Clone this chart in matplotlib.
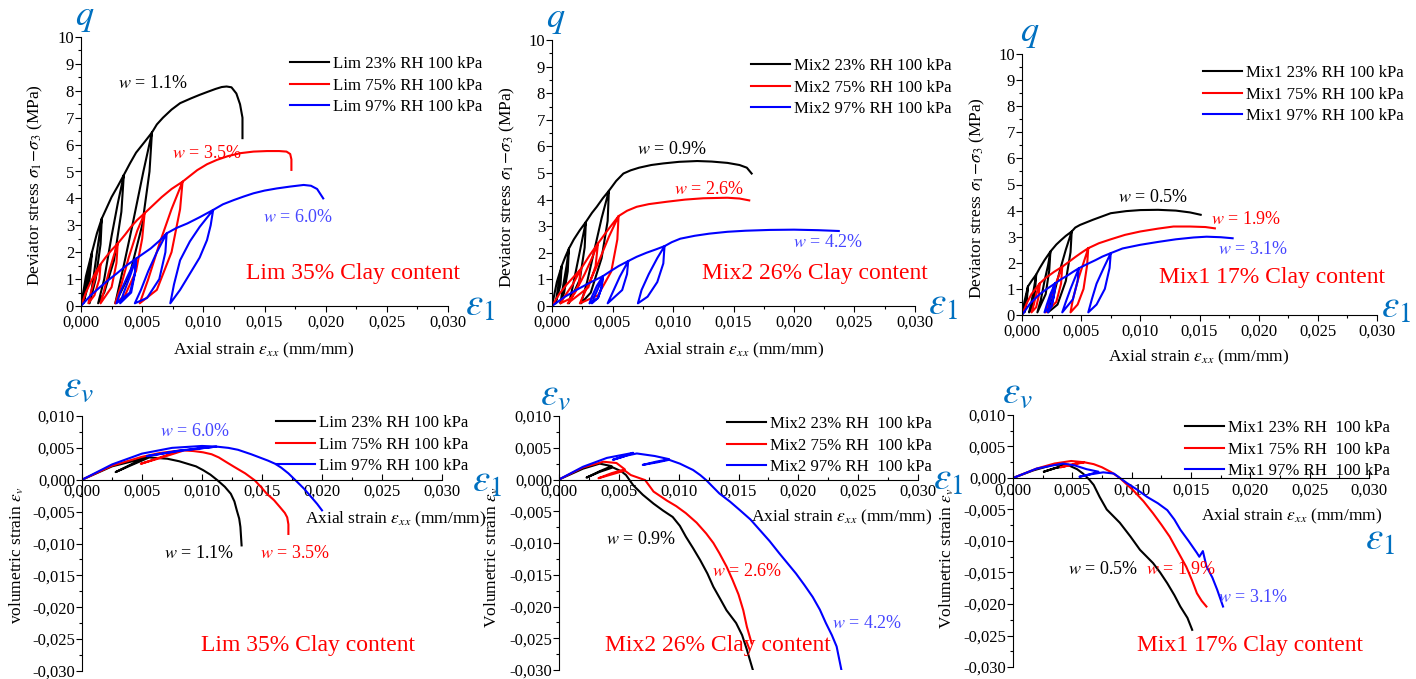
import matplotlib
matplotlib.use('Agg')
import matplotlib.pyplot as plt
from matplotlib.ticker import FuncFormatter, MultipleLocator

plt.rcParams['font.family'] = ['Liberation Serif', 'DejaVu Serif']
plt.rcParams['mathtext.fontset'] = 'stix'

# ---------------- data: deviator stress q (MPa) vs axial strain, (strain, q) ----------------
# Lim, 35% clay
lim23_q = [(0, 0), (0.0004, 1.1), (0.0009, 2.0), (0.0007, 1.0), (0.0002, 0.1), (0.0005, 0.9), (0.0009, 2.0),
           (0.0013, 2.7), (0.0017, 3.25), (0.0016, 2.3), (0.0012, 1.0), (0.0007, 0.1), (0.0010, 1.0),
           (0.0014, 2.3), (0.0017, 3.25), (0.0021, 3.65), (0.0025, 4.05), (0.0030, 4.45), (0.0035, 4.87),
           (0.0033, 3.5), (0.0027, 1.7), (0.0019, 0.5), (0.0014, 0.1), (0.0019, 1.0), (0.0025, 2.6),
           (0.0030, 3.8), (0.0035, 4.87), (0.0040, 5.3), (0.0045, 5.7), (0.0052, 6.1), (0.0058, 6.45),
           (0.0056, 5.0), (0.0050, 3.0), (0.0040, 1.2), (0.0028, 0.1), (0.0034, 1.3), (0.0042, 3.0),
           (0.0051, 5.0), (0.0058, 6.45), (0.0062, 6.75), (0.0067, 7.0), (0.0074, 7.3), (0.0081, 7.54),
           (0.0090, 7.72), (0.0097, 7.85), (0.0104, 7.97), (0.0110, 8.07), (0.0115, 8.14), (0.0119, 8.16),
           (0.0123, 8.13), (0.0127, 7.9), (0.0130, 7.5), (0.0132, 7.0), (0.0132, 6.24)]
lim75_q = [(0, 0), (0.0004, 0.5), (0.0008, 0.9), (0.0012, 1.25), (0.0016, 1.55), (0.0015, 1.0), (0.0011, 0.4),
           (0.0006, 0.1), (0.0008, 0.5), (0.0012, 1.1), (0.0016, 1.55), (0.0020, 1.8), (0.0025, 2.08),
           (0.0030, 2.32), (0.0029, 1.6), (0.0025, 0.7), (0.0016, 0.1), (0.0019, 0.6), (0.0023, 1.3),
           (0.0027, 1.9), (0.0030, 2.32), (0.0036, 2.65), (0.0041, 2.95), (0.0046, 3.2), (0.0052, 3.45),
           (0.0050, 2.5), (0.0045, 1.3), (0.0036, 0.4), (0.0028, 0.1), (0.0033, 0.8), (0.0039, 1.8),
           (0.0046, 2.8), (0.0052, 3.45), (0.0059, 3.75), (0.0066, 4.05), (0.0074, 4.35), (0.0083, 4.62),
           (0.0081, 3.6), (0.0074, 2.0), (0.0062, 0.6), (0.0048, 0.1), (0.0055, 1.0), (0.0064, 2.3),
           (0.0074, 3.6), (0.0083, 4.62), (0.0088, 4.8), (0.0095, 5.05), (0.0103, 5.27), (0.0111, 5.43),
           (0.0120, 5.57), (0.0130, 5.68), (0.0141, 5.74), (0.0152, 5.76), (0.0162, 5.76), (0.0168, 5.74),
           (0.0171, 5.65), (0.0172, 5.45), (0.0172, 5.06)]
lim97_q = [(0, 0), (0.0008, 0.4), (0.0016, 0.72), (0.0022, 0.95), (0.0029, 1.2), (0.0037, 1.5), (0.0045, 1.76),
           (0.0044, 1.2), (0.0040, 0.5), (0.0029, 0.1), (0.0032, 0.5), (0.0038, 1.1), (0.0045, 1.76),
           (0.0044, 1.2), (0.0041, 0.5), (0.0032, 0.1), (0.0035, 0.5), (0.0040, 1.1), (0.0045, 1.76),
           (0.0051, 1.95), (0.0057, 2.14), (0.0064, 2.42), (0.0070, 2.70), (0.0069, 2.0), (0.0064, 1.0),
           (0.0054, 0.3), (0.0044, 0.1), (0.0049, 0.6), (0.0055, 1.3), (0.0062, 2.0), (0.0070, 2.70),
           (0.0078, 2.9), (0.0087, 3.07), (0.0097, 3.3), (0.0108, 3.57), (0.0106, 3.0), (0.0103, 2.45),
           (0.0097, 1.8), (0.0089, 1.2), (0.0081, 0.6), (0.0073, 0.1), (0.0076, 0.8), (0.0081, 1.7),
           (0.0089, 2.4), (0.0097, 2.94), (0.0108, 3.57), (0.0116, 3.78), (0.0125, 3.94), (0.0133, 4.07),
           (0.0141, 4.19), (0.0150, 4.29), (0.0160, 4.37), (0.0171, 4.44), (0.0182, 4.50), (0.0188, 4.47),
           (0.0193, 4.35), (0.0198, 4.0)]

# Mix2, 26% clay
mix2_23_q = [(0, 0), (0.0004, 0.9), (0.0008, 1.5), (0.0007, 0.8), (0.0003, 0.1), (0.0005, 0.7), (0.0008, 1.5),
             (0.0011, 1.85), (0.0014, 2.16), (0.0013, 1.3), (0.0010, 0.5), (0.0007, 0.1), (0.0009, 0.7),
             (0.0012, 1.5), (0.0014, 2.16), (0.0018, 2.5), (0.0023, 2.85), (0.0028, 3.16), (0.0027, 2.2),
             (0.0023, 1.0), (0.0014, 0.1), (0.0017, 0.7), (0.0021, 1.6), (0.0025, 2.5), (0.0028, 3.16),
             (0.0033, 3.5), (0.0037, 3.73), (0.0042, 4.05), (0.0047, 4.33), (0.0046, 3.2), (0.0041, 1.8),
             (0.0032, 0.5), (0.0024, 0.1), (0.0029, 0.9), (0.0035, 2.1), (0.0041, 3.3), (0.0047, 4.33),
             (0.0053, 4.7), (0.0059, 4.98), (0.0065, 5.1), (0.0072, 5.2), (0.0082, 5.3), (0.0092, 5.36),
             (0.0105, 5.42), (0.0120, 5.45), (0.0132, 5.43), (0.0145, 5.38), (0.0155, 5.30), (0.0161, 5.2),
             (0.0165, 4.98)]
mix2_75_q = [(0, 0), (0.0006, 0.45), (0.0012, 0.8), (0.0018, 1.1), (0.0024, 1.4), (0.0022, 0.8), (0.0016, 0.3),
             (0.0007, 0.1), (0.0011, 0.4), (0.0017, 0.8), (0.0024, 1.4), (0.0031, 1.9), (0.0038, 2.35),
             (0.0036, 1.5), (0.0030, 0.7), (0.0013, 0.1), (0.0019, 0.5), (0.0027, 1.2), (0.0033, 1.8),
             (0.0038, 2.35), (0.0046, 2.85), (0.0055, 3.38), (0.0054, 2.5), (0.0049, 1.3), (0.0038, 0.4),
             (0.0023, 0.1), (0.0030, 0.8), (0.0038, 1.6), (0.0047, 2.6), (0.0055, 3.38), (0.0062, 3.58),
             (0.0070, 3.73), (0.0080, 3.83), (0.0095, 3.92), (0.0110, 4.0), (0.0125, 4.05), (0.0145, 4.07),
             (0.0155, 4.04), (0.0163, 3.97)]
mix2_97_q = [(0, 0), (0.0010, 0.33), (0.0020, 0.6), (0.0031, 0.87), (0.0042, 1.12), (0.0041, 0.7), (0.0038, 0.3),
             (0.0031, 0.1), (0.0033, 0.35), (0.0037, 0.75), (0.0042, 1.12), (0.0041, 0.7), (0.0038, 0.3),
             (0.0033, 0.1), (0.0035, 0.35), (0.0039, 0.75), (0.0042, 1.12), (0.0048, 1.3), (0.0055, 1.5),
             (0.0063, 1.69), (0.0062, 1.2), (0.0058, 0.6), (0.0046, 0.1), (0.0050, 0.5), (0.0056, 1.1),
             (0.0063, 1.69), (0.0070, 1.85), (0.0078, 2.0), (0.0086, 2.13), (0.0093, 2.25), (0.0092, 1.6),
             (0.0087, 0.9), (0.0079, 0.35), (0.0071, 0.1), (0.0074, 0.6), (0.0080, 1.2), (0.0087, 1.8),
             (0.0093, 2.25), (0.0099, 2.4), (0.0106, 2.53), (0.0118, 2.64), (0.0130, 2.72), (0.0145, 2.79),
             (0.0160, 2.83), (0.0180, 2.86), (0.0200, 2.87), (0.0220, 2.85), (0.0237, 2.82)]

# Mix1, 17% clay
mix1_23_q = [(0, 0), (0.0002, 0.5), (0.0005, 1.09), (0.0004, 0.5), (0.0002, 0.1), (0.0003, 0.45), (0.0005, 1.09),
             (0.0008, 1.3), (0.0012, 1.55), (0.0011, 0.9), (0.0009, 0.35), (0.0006, 0.1), (0.0008, 0.5),
             (0.0010, 1.0), (0.0012, 1.55), (0.0015, 1.8), (0.0019, 2.1), (0.0024, 2.43), (0.0023, 1.7),
             (0.0020, 0.8), (0.0013, 0.1), (0.0016, 0.6), (0.0019, 1.3), (0.0022, 1.9), (0.0024, 2.43),
             (0.0029, 2.7), (0.0033, 2.87), (0.0037, 3.03), (0.0042, 3.2), (0.0041, 2.4), (0.0037, 1.3),
             (0.0030, 0.4), (0.0022, 0.1), (0.0027, 0.8), (0.0032, 1.7), (0.0037, 2.5), (0.0042, 3.2),
             (0.0045, 3.35), (0.0049, 3.45), (0.0060, 3.65), (0.0075, 3.9), (0.0088, 3.98), (0.0100, 4.02),
             (0.0115, 4.03), (0.0130, 4.0), (0.0142, 3.93), (0.0151, 3.84)]
mix1_75_q = [(0, 0), (0.0004, 0.45), (0.0008, 0.8), (0.0015, 1.21), (0.0014, 0.7), (0.0012, 0.3), (0.0008, 0.1),
             (0.0010, 0.4), (0.0012, 0.8), (0.0015, 1.21), (0.0020, 1.42), (0.0027, 1.65), (0.0034, 1.85),
             (0.0033, 1.2), (0.0029, 0.5), (0.0020, 0.1), (0.0023, 0.5), (0.0027, 1.0), (0.0031, 1.5),
             (0.0034, 1.85), (0.0040, 2.05), (0.0045, 2.22), (0.0050, 2.38), (0.0056, 2.56), (0.0055, 1.9),
             (0.0052, 1.0), (0.0047, 0.4), (0.0041, 0.1), (0.0043, 0.6), (0.0047, 1.3), (0.0052, 2.0),
             (0.0056, 2.56), (0.0065, 2.75), (0.0075, 2.9), (0.0087, 3.07), (0.0100, 3.2), (0.0115, 3.31),
             (0.0128, 3.39), (0.0142, 3.39), (0.0155, 3.37), (0.0163, 3.32)]
mix1_97_q = [(0, 0), (0.0007, 0.45), (0.0015, 0.8), (0.0021, 1.0), (0.0028, 1.21), (0.0027, 0.75), (0.0025, 0.35),
             (0.0019, 0.1), (0.0021, 0.4), (0.0024, 0.8), (0.0028, 1.21), (0.0027, 0.75), (0.0025, 0.35),
             (0.0022, 0.1), (0.0023, 0.4), (0.0025, 0.8), (0.0028, 1.21), (0.0033, 1.37), (0.0038, 1.5),
             (0.0043, 1.65), (0.0048, 1.79), (0.0047, 1.3), (0.0043, 0.6), (0.0034, 0.1), (0.0037, 0.5),
             (0.0041, 1.0), (0.0045, 1.45), (0.0048, 1.79), (0.0055, 1.95), (0.0062, 2.1), (0.0068, 2.24),
             (0.0075, 2.37), (0.0074, 1.8), (0.0070, 1.0), (0.0063, 0.4), (0.0056, 0.1), (0.0059, 0.6),
             (0.0063, 1.2), (0.0069, 1.8), (0.0075, 2.37), (0.0085, 2.55), (0.0100, 2.69), (0.0115, 2.8),
             (0.0130, 2.9), (0.0145, 2.97), (0.0156, 3.0), (0.0168, 2.98), (0.0178, 2.94)]

# ---------------- data: volumetric strain vs axial strain, (strain, vol. strain) ----------------
lim23_v = [(0, 0), (0.0025, 0.0021), (0.0042, 0.0029), (0.0054, 0.0036), (0.0042, 0.0025), (0.0028, 0.0012),
           (0.0040, 0.0022), (0.0056, 0.0035), (0.0071, 0.0033), (0.0081, 0.0029), (0.0088, 0.0025),
           (0.0095, 0.0021), (0.0101, 0.0015), (0.0107, 0.0008), (0.0113, -0.0001), (0.0119, -0.0011),
           (0.0124, -0.0022), (0.0127, -0.0034), (0.0129, -0.0048), (0.0131, -0.0061), (0.0132, -0.0074),
           (0.0133, -0.0103)]
lim75_v = [(0, 0), (0.0025, 0.0022), (0.0050, 0.0036), (0.0065, 0.0042), (0.0082, 0.0046), (0.0065, 0.0035),
           (0.0049, 0.0025), (0.0065, 0.0034), (0.0085, 0.0046), (0.0093, 0.0045), (0.0101, 0.0043),
           (0.0108, 0.0040), (0.0114, 0.0035), (0.0120, 0.0028), (0.0127, 0.0020), (0.0136, 0.0010),
           (0.0144, -0.0001), (0.0149, -0.0011), (0.0154, -0.0022), (0.0160, -0.0032), (0.0165, -0.0043),
           (0.0169, -0.0052), (0.0171, -0.0059), (0.0172, -0.0070), (0.0172, -0.0085)]
lim97_v = [(0, 0), (0.0025, 0.0024), (0.0050, 0.0041), (0.0075, 0.0050), (0.0100, 0.0053), (0.0112, 0.0052),
           (0.0080, 0.0045), (0.0054, 0.0037), (0.0082, 0.0046), (0.0112, 0.0052), (0.0122, 0.0050),
           (0.0130, 0.0047), (0.0141, 0.0040), (0.0148, 0.0035), (0.0155, 0.0030), (0.0161, 0.0025),
           (0.0166, 0.0019), (0.0172, 0.0010), (0.0178, -0.0001), (0.0185, -0.0014), (0.0191, -0.0027),
           (0.0196, -0.0038), (0.0200, -0.0048)]

mix2_23_v = [(0, 0), (0.0020, 0.0017), (0.0034, 0.0025), (0.0044, 0.0021), (0.0034, 0.0013), (0.0023, 0.0003),
             (0.0034, 0.0012), (0.0045, 0.0019), (0.0052, 0.0013), (0.0056, 0.0007), (0.0062, -0.0009),
             (0.0070, -0.0024), (0.0079, -0.0038), (0.0087, -0.0049), (0.0095, -0.0059), (0.0101, -0.0073),
             (0.0106, -0.0090), (0.0112, -0.0108), (0.0118, -0.0127), (0.0124, -0.0148), (0.0129, -0.0169),
             (0.0135, -0.0189), (0.0140, -0.0206), (0.0148, -0.0226), (0.0153, -0.0245), (0.0157, -0.0268),
             (0.0162, -0.0300)]
mix2_75_v = [(0, 0), (0.0020, 0.0019), (0.0037, 0.0028), (0.0048, 0.0026), (0.0055, 0.0016), (0.0044, 0.0010),
             (0.0033, 0.0002), (0.0044, 0.0008), (0.0055, 0.0014), (0.0060, 0.0007), (0.0066, 0.0003),
             (0.0072, -0.0001), (0.0079, -0.0019), (0.0090, -0.0033), (0.0098, -0.0042), (0.0106, -0.0053),
             (0.0115, -0.0068), (0.0123, -0.0085), (0.0129, -0.0100), (0.0134, -0.0116), (0.0140, -0.0137),
             (0.0145, -0.0158), (0.0150, -0.0181), (0.0154, -0.0206), (0.0157, -0.0232), (0.0161, -0.0258)]
mix2_97_v = [(0, 0), (0.0020, 0.0020), (0.0040, 0.0034), (0.0062, 0.0042), (0.0054, 0.0036), (0.0045, 0.0031),
             (0.0055, 0.0037), (0.0065, 0.0041), (0.0080, 0.0037), (0.0092, 0.0032), (0.0081, 0.0028),
             (0.0070, 0.0023), (0.0082, 0.0027), (0.0092, 0.0031), (0.0101, 0.0025), (0.0112, 0.0015),
             (0.0118, 0.0007), (0.0123, -0.0001), (0.0134, -0.0022), (0.0143, -0.0035), (0.0151, -0.0048),
             (0.0160, -0.0063), (0.0168, -0.0080), (0.0176, -0.0097), (0.0184, -0.0116), (0.0198, -0.0148),
             (0.0205, -0.0166), (0.0212, -0.0185), (0.0218, -0.0205), (0.0223, -0.0226), (0.0228, -0.0245),
             (0.0232, -0.0263), (0.0236, -0.0300)]

mix1_23_v = [(0, 0), (0.0017, 0.0012), (0.0034, 0.0021), (0.0047, 0.0021), (0.0036, 0.0016), (0.0026, 0.0010),
             (0.0036, 0.0016), (0.0047, 0.0020), (0.0054, 0.0014), (0.0059, 0.0007), (0.0064, -0.0002),
             (0.0068, -0.0011), (0.0073, -0.0030), (0.0079, -0.0050), (0.0090, -0.0071), (0.0099, -0.0093),
             (0.0107, -0.0114), (0.0118, -0.0135), (0.0124, -0.0150), (0.0130, -0.0167), (0.0136, -0.0186),
             (0.0141, -0.0204), (0.0147, -0.0222), (0.0151, -0.0241)]
mix1_75_v = [(0, 0), (0.0020, 0.0015), (0.0035, 0.0023), (0.0049, 0.0027), (0.0060, 0.0025), (0.0053, 0.0023),
             (0.0040, 0.0017), (0.0050, 0.0021), (0.0060, 0.0025), (0.0068, 0.0022), (0.0075, 0.0017),
             (0.0083, 0.0009), (0.0090, 0.0000), (0.0101, -0.0019), (0.0110, -0.0037), (0.0118, -0.0056),
             (0.0125, -0.0074), (0.0132, -0.0093), (0.0139, -0.0117), (0.0146, -0.0141), (0.0151, -0.0163),
             (0.0155, -0.0183), (0.0159, -0.0195), (0.0163, -0.0204)]
mix1_97_v = [(0, 0), (0.0020, 0.0015), (0.0042, 0.0023), (0.0052, 0.0020), (0.0062, 0.0014), (0.0072, 0.0010),
             (0.0065, 0.0006), (0.0056, 0.0002), (0.0066, 0.0006), (0.0076, 0.0009), (0.0085, 0.0007),
             (0.0096, -0.0008), (0.0105, -0.0019), (0.0113, -0.0030), (0.0122, -0.0040), (0.0130, -0.0051),
             (0.0136, -0.0066), (0.0141, -0.0082), (0.0148, -0.0100), (0.0155, -0.0119), (0.0157, -0.0125),
             (0.0160, -0.0116), (0.0163, -0.0140), (0.0168, -0.0158), (0.0172, -0.0177), (0.0177, -0.0204)]

W, H = 1416, 679
fig = plt.figure(figsize=(W / 100, H / 100), dpi=100)
BLUE_SYM = '#0070C0'
colors = ['black', '#ff0000', '#0000ff']


def ax_at(l, t, r, b):
    return fig.add_axes([l / W, 1 - b / H, (r - l) / W, (b - t) / H])


def ftext(x, y, s, **kw):
    fig.text(x / W, 1 - y / H, s, ha='center', va='center', **kw)


def comma(fmt):
    return FuncFormatter(lambda v, p: (fmt % v).replace('.', ',').replace('\u2212', '-'))


def style_top(ax):
    ax.set_xlim(0, 0.03)
    ax.set_ylim(0, 10)
    for s in ['top', 'right']:
        ax.spines[s].set_visible(False)
    ax.xaxis.set_major_locator(MultipleLocator(0.005))
    ax.xaxis.set_minor_locator(MultipleLocator(0.0025))
    ax.yaxis.set_major_locator(MultipleLocator(1))
    ax.yaxis.set_minor_locator(MultipleLocator(0.5))
    ax.xaxis.set_major_formatter(comma('%.3f'))
    ax.yaxis.set_major_formatter(FuncFormatter(lambda v, p: '%d' % v))
    ax.tick_params(which='both', direction='out', labelsize=12, width=0.8)
    ax.tick_params(which='major', length=4)
    ax.tick_params(which='minor', length=2.5)
    ax.tick_params(axis='x', pad=2)
    ax.tick_params(axis='y', pad=1)


def style_bot(ax):
    ax.set_xlim(0, 0.03)
    ax.set_ylim(-0.03, 0.01)
    for s in ['top', 'right']:
        ax.spines[s].set_visible(False)
    ax.spines['bottom'].set_position(('data', 0))
    ax.xaxis.set_major_locator(MultipleLocator(0.005))
    ax.xaxis.set_minor_locator(MultipleLocator(0.0025))
    ax.yaxis.set_major_locator(MultipleLocator(0.005))
    ax.yaxis.set_minor_locator(MultipleLocator(0.0025))
    ax.xaxis.set_major_formatter(comma('%.3f'))
    ax.yaxis.set_major_formatter(comma('%.3f'))
    ax.tick_params(which='both', labelsize=12, width=0.8)
    ax.tick_params(axis='x', which='both', direction='in', pad=3)
    ax.tick_params(axis='y', which='both', direction='out', pad=1)
    ax.tick_params(which='major', length=4)
    ax.tick_params(which='minor', length=2.5)


def legend_at(ax, x, y, labels):
    ax.legend(labels, loc='upper left', bbox_to_anchor=(x / W, 1 - y / H), bbox_transform=fig.transFigure,
              frameon=False, fontsize=12.1, handlelength=2.3, handletextpad=0.25, labelspacing=0.33,
              borderpad=0, borderaxespad=0)


def draw(ax, series):
    for pts, c in zip(series, colors):
        xs = [p[0] for p in pts]
        ys = [p[1] for p in pts]
        ax.plot(xs, ys, color=c, lw=1.5, solid_joinstyle='round')


# ---------------- top row ----------------
top_specs = [
    ((81, 37, 448, 306), [lim23_q, lim75_q, lim97_q],
     ['Lim 23% RH 100 kPa', 'Lim 75% RH 100 kPa', 'Lim 97% RH 100 kPa'], (290, 56)),
    ((552, 40, 915, 306), [mix2_23_q, mix2_75_q, mix2_97_q],
     ['Mix2 23% RH 100 kPa', 'Mix2 75% RH 100 kPa', 'Mix2 97% RH 100 kPa'], (751, 58)),
    ((1022, 54, 1377, 315), [mix1_23_q, mix1_75_q, mix1_97_q],
     ['Mix1 23% RH 100 kPa', 'Mix1 75% RH 100 kPa', 'Mix1 97% RH 100 kPa'], (1203, 65)),
]
for box, series, labels, lpos in top_specs:
    ax = ax_at(*box)
    draw(ax, series)
    style_top(ax)
    legend_at(ax, lpos[0], lpos[1], labels)

# ---------------- bottom row ----------------
bot_specs = [
    ((82, 416, 442, 671), [lim23_v, lim75_v, lim97_v],
     ['Lim 23% RH 100 kPa', 'Lim 75% RH 100 kPa', 'Lim 97% RH 100 kPa'], (276, 415)),
    ((559, 416, 918, 670), [mix2_23_v, mix2_75_v, mix2_97_v],
     ['Mix2 23% RH  100 kPa', 'Mix2 75% RH  100 kPa', 'Mix2 97% RH  100 kPa'], (727, 416)),
    ((1013, 415, 1369, 667), [mix1_23_v, mix1_75_v, mix1_97_v],
     ['Mix1 23% RH  100 kPa', 'Mix1 75% RH  100 kPa', 'Mix1 97% RH  100 kPa'], (1185, 420)),
]
for box, series, labels, lpos in bot_specs:
    ax = ax_at(*box)
    draw(ax, series)
    style_bot(ax)
    legend_at(ax, lpos[0], lpos[1], labels)

# axis labels
ylab_q = r'Deviator stress $\sigma_1\!-\!\sigma_3$ (MPa)'
xlab = r'Axial strain $\varepsilon_{xx}$ (mm/mm)'
ftext(35, 185, ylab_q, rotation=90, fontsize=12.5)
ftext(507, 187, ylab_q, rotation=90, fontsize=12.5)
ftext(977, 198, ylab_q, rotation=90, fontsize=12.5)
ftext(264, 350, xlab, fontsize=12.5)
ftext(734, 350, xlab, fontsize=12.5)
ftext(1199, 357, xlab, fontsize=12.5)
ftext(396, 519, xlab, fontsize=12.5)
ftext(842, 517, xlab, fontsize=12.5)
ftext(1292, 516, xlab, fontsize=12.5)
ftext(17, 555, r'volumetric strain $\varepsilon_v$', rotation=90, fontsize=12.5)
ftext(492, 557, r'Volumetric strain $\varepsilon_v$', rotation=90, fontsize=12.5)
ftext(947, 558, r'Volumetric strain $\varepsilon_v$', rotation=90, fontsize=12.5)

# blue axis symbols
for x, y in [(85, 18), (556, 20), (1030, 33)]:
    ftext(x, y, r'$q$', fontsize=26, color=BLUE_SYM)
for x, y in [(480, 306), (943, 305), (1396, 308), (487, 482), (948, 480), (1380, 540)]:
    ftext(x, y, r'$\varepsilon_1$', fontsize=28, color=BLUE_SYM)
for x, y in [(78, 387), (555, 395), (1017, 393)]:
    ftext(x, y, r'$\varepsilon_v$', fontsize=28, color=BLUE_SYM)

# clay content titles
for x, y, s in [(353, 273, 'Lim 35% Clay content'), (815, 273, 'Mix2 26% Clay content'),
                (1272, 278, 'Mix1 17% Clay content'), (308, 646, 'Lim 35% Clay content'),
                (718, 646, 'Mix2 26% Clay content'), (1250, 646, 'Mix1 17% Clay content')]:
    ftext(x, y, s, fontsize=17, color='#ff0000')

# water content notes
W_BLUE = '#4646ff'
notes = [
    (153, 84, '1.1%', 'black'), (207, 153, '3.5%', '#ff0000'), (298, 217, '6.0%', W_BLUE),
    (672, 150, '0.9%', 'black'), (709, 189, '2.6%', '#ff0000'), (828, 242, '4.2%', W_BLUE),
    (1153, 197, '0.5%', 'black'), (1246, 220, '1.9%', '#ff0000'), (1253, 250, '3.1%', W_BLUE),
    (195, 432, '6.0%', W_BLUE), (199, 554, '1.1%', 'black'), (295, 554, '3.5%', '#ff0000'),
    (641, 539, '0.9%', 'black'), (747, 571, '2.6%', '#ff0000'), (867, 623, '4.2%', W_BLUE),
    (1103, 569, '0.5%', 'black'), (1181, 569, '1.9%', '#ff0000'), (1253, 598, '3.1%', W_BLUE),
]
for x, y, s, c in notes:
    ftext(x, y, r'$w$ = ' + s, fontsize=13, color=c)

fig.savefig('out.png', dpi=100)
